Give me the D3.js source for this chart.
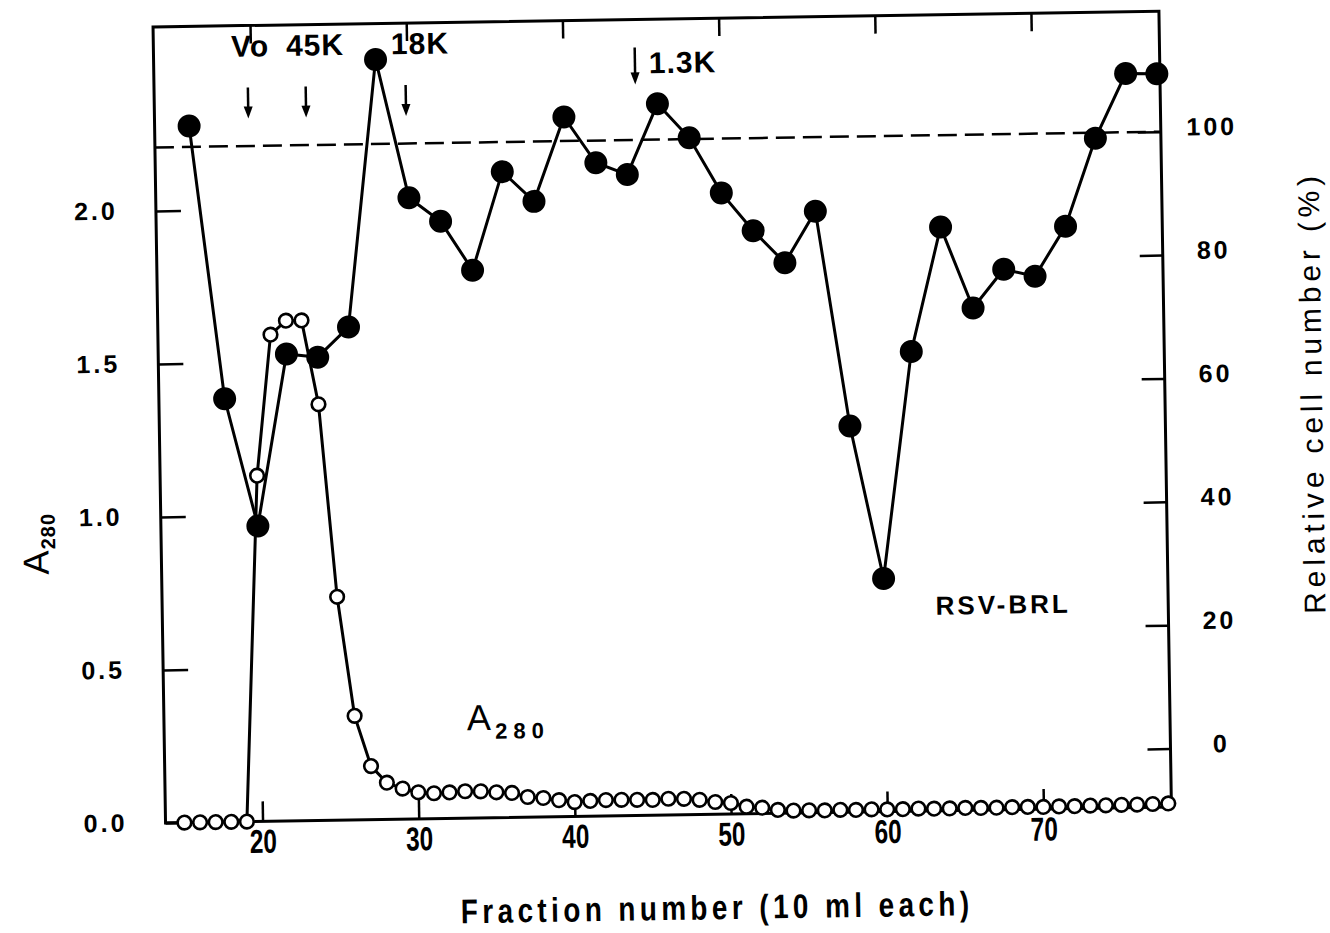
<!DOCTYPE html>
<html>
<head>
<meta charset="utf-8">
<script src="https://cdn.jsdelivr.net/npm/d3@7/dist/d3.min.js"></script>
<style>
  body { margin: 0; background: #fff; }
  svg { display: block; }
</style>
</head>
<body>
<script>
// A280 of each 10 ml fraction (open circles)
var openFractions = [15,16,17,18,19,20,21,22,23,24,25,26,27,28,29,30,31,32,33,34,35,36,37,38,39,40,41,42,43,44,45,46,
                     47,48,49,50,51,52,53,54,55,56,57,58,59,60,61,62,63,64,65,66,67,68,69,70,71,72,73,74,75,76,77,78];
var a280 = [0,0,0,0,0,1.13,1.59,1.635,1.635,1.36,0.73,0.34,0.175,0.12,0.10,0.087,0.083,0.085,0.088,0.087,0.083,0.08,
            0.066,0.062,0.054,0.047,0.05,0.052,0.052,0.051,0.05,0.053,0.052,0.048,0.04,0.036,0.023,0.019,0.011,
            0.008,0.008,0.007,0.008,0.007,0.008,0.007,0.007,0.008,0.007,0.007,0.008,0.007,0.007,0.008,0.008,0.007,
            0.008,0.008,0.009,0.009,0.010,0.010,0.011,0.012];

// relative cell number (%) for every second fraction (filled circles)
var cellFractions = [16,18,20,22,24,26,28,30,32,34,36,38,40,42,44,46,48,50,52,54,56,58,60,62,64,66,68,70,72,74,76,78];
var cellNumber = [103.4,59.1,38.4,66.2,65.6,70.4,113.7,91.2,87.3,79.3,95.2,90.3,103.9,96.4,94.4,105.8,
                  100.2,91.2,85.0,79.7,88.0,53.1,28.3,65.0,85.1,71.9,78.1,76.9,84.9,99.1,109.5,109.4];

var xTicks = [20,30,40,50,60,70];
var leftTicks = [0.0,0.5,1.0,1.5,2.0];
var rightTicks = [0,20,40,60,80,100];

// molecular weight markers
var markerLabels = ["Vo","45K","18K","1.3K"];
var markerFractions = [19.8,23.5,29.9,44.6];

var options = {
  width: 1330, height: 933,
  left: 160, right: 1166, top: 19, bottom: 815,
  tilt: -0.9
};

var svg = d3.select("body").append("svg")
            .attr("width", options.width)
            .attr("height", options.height);

// the scanned page is a little bit rotated
var chart = svg.append("g")
               .attr("transform", "rotate(" + options.tilt + ",665,466)");

var x = d3.scaleLinear().domain([20,70]).range([257,1038]);
var yLeft = d3.scaleLinear().domain([0,2]).range([options.bottom,203]);
var yRight = d3.scaleLinear().domain([0,100]).range([756.5,139.5]);

var font = "'Liberation Sans', Arial, sans-serif";

// frame
chart.append("rect")
     .attr("x", options.left).attr("y", options.top)
     .attr("width", options.right - options.left)
     .attr("height", options.bottom - options.top)
     .attr("fill", "none").attr("stroke", "#000").attr("stroke-width", 3);

var styleAxis = function(g) {
  g.select(".domain").remove();
  g.selectAll(".tick line").attr("stroke", "#000").attr("stroke-width", 2.5);
  g.selectAll("text").attr("fill", "#000");
};

// bottom axis with the fraction numbers (condensed type)
chart.append("g")
     .attr("transform", "translate(0," + options.bottom + ")")
     .call(d3.axisBottom(x).tickValues(xTicks).tickSizeInner(-20).tickSizeOuter(0).tickPadding(8))
     .call(styleAxis)
     .call(function(g) {
       g.selectAll("text")
        .attr("font-family", font)
        .attr("font-size", 33)
        .attr("font-weight", "bold")
        .attr("transform", "scale(0.74,1)");
     });

// top axis: ticks only
chart.append("g")
     .attr("transform", "translate(0," + options.top + ")")
     .call(d3.axisTop(x).tickValues(xTicks).tickSizeInner(-18).tickSizeOuter(0).tickFormat(""))
     .call(styleAxis);

// left axis A280
chart.append("g")
     .attr("transform", "translate(" + options.left + ",0)")
     .call(d3.axisLeft(yLeft).tickValues(leftTicks).tickSizeInner(-25).tickSizeOuter(0)
             .tickFormat(d3.format(".1f")))
     .call(styleAxis)
     .call(function(g) {
       g.selectAll("text")
        .attr("font-family", font)
        .attr("font-size", 25)
        .attr("font-weight", "bold")
        .attr("letter-spacing", 3)
        .attr("text-anchor", "middle")
        .attr("x", -60)
        .attr("dy", "0.3em");
     });

// right axis relative cell number
chart.append("g")
     .attr("transform", "translate(" + options.right + ",0)")
     .call(d3.axisRight(yRight).tickValues(rightTicks).tickSizeInner(-23).tickSizeOuter(0))
     .call(styleAxis)
     .call(function(g) {
       g.selectAll("text")
        .attr("font-family", font)
        .attr("font-size", 25)
        .attr("font-weight", "bold")
        .attr("letter-spacing", 3)
        .attr("text-anchor", "middle")
        .attr("x", 51)
        .attr("dy", "0.15em");
     });

// 100 % control level
chart.append("line")
     .attr("x1", options.left).attr("x2", options.right)
     .attr("y1", yRight(100)).attr("y2", yRight(100))
     .attr("stroke", "#000").attr("stroke-width", 2.5)
     .attr("stroke-dasharray", "19,8");

var openData = openFractions.map(function(f, i) { return { f: f, v: a280[i] }; });
var cellData = cellFractions.map(function(f, i) { return { f: f, v: cellNumber[i] }; });

// A280 trace
chart.append("path")
     .datum(openData)
     .attr("fill", "none").attr("stroke", "#000").attr("stroke-width", 3)
     .attr("d", d3.line().x(function(d) { return x(d.f); }).y(function(d) { return yLeft(d.v); }));

// cell number trace
chart.append("path")
     .datum(cellData)
     .attr("fill", "none").attr("stroke", "#000").attr("stroke-width", 3)
     .attr("d", d3.line().x(function(d) { return x(d.f); }).y(function(d) { return yRight(d.v); }));

chart.selectAll(".open").data(openData).enter()
     .append("circle")
     .attr("class", "open")
     .attr("cx", function(d) { return x(d.f); })
     .attr("cy", function(d) { return yLeft(d.v); })
     .attr("r", 6.8)
     .attr("fill", "#fff").attr("stroke", "#000").attr("stroke-width", 2.6);

chart.selectAll(".cell").data(cellData).enter()
     .append("circle")
     .attr("class", "cell")
     .attr("cx", function(d) { return x(d.f); })
     .attr("cy", function(d) { return yRight(d.v); })
     .attr("r", 11.5)
     .attr("fill", "#000");

// marker arrows
var arrowTop = [81, 81, 81, 47];
var arrowTip = [112, 112, 112, 84];
markerFractions.forEach(function(f, i) {
  var ax = x(f);
  chart.append("line")
       .attr("x1", ax).attr("x2", ax)
       .attr("y1", arrowTop[i]).attr("y2", arrowTip[i] - 8)
       .attr("stroke", "#000").attr("stroke-width", 2.5);
  chart.append("path")
       .attr("d", "M" + (ax - 4.5) + "," + (arrowTip[i] - 12) + "L" + (ax + 4.5) + "," + (arrowTip[i] - 12) +
                  "L" + ax + "," + arrowTip[i] + "Z")
       .attr("fill", "#000");
});

var labelDx = [3, 10, 15, 14];
markerLabels.forEach(function(t, i) {
  var last = i === markerLabels.length - 1;
  chart.append("text")
       .attr("x", x(markerFractions[i]) + labelDx[i])
       .attr("y", last ? 73 : 50)
       .attr("text-anchor", last ? "start" : "middle")
       .attr("font-family", font)
       .attr("font-size", 30)
       .attr("font-weight", "bold")
       .attr("letter-spacing", 1)
       .text(t);
});

// in-plot labels
chart.append("text")
     .attr("x", 1001).attr("y", 619)
     .attr("text-anchor", "middle")
     .attr("font-family", font)
     .attr("font-size", 26)
     .attr("font-weight", "bold")
     .attr("letter-spacing", 3)
     .text("RSV-BRL");

var aLabel = chart.append("text")
     .attr("x", 463).attr("y", 727)
     .attr("font-family", font)
     .attr("font-size", 36);
aLabel.append("tspan").text("A");
aLabel.append("tspan").attr("dy", 9).attr("dx", 4)
      .attr("font-size", 22).attr("font-weight", "bold").attr("letter-spacing", 6).text("280");

// axis titles
var leftTitle = chart.append("text")
     .attr("transform", "translate(47,534) rotate(-90)")
     .attr("text-anchor", "middle")
     .attr("font-family", font)
     .attr("font-size", 36);
leftTitle.append("tspan").text("A");
leftTitle.append("tspan").attr("dy", 7).attr("dx", 1)
         .attr("font-size", 20).attr("font-weight", "bold").attr("letter-spacing", 1).text("280");

chart.append("text")
     .attr("transform", "translate(1323,405) rotate(-90)")
     .attr("text-anchor", "middle")
     .attr("font-family", font)
     .attr("font-size", 30)
     .attr("textLength", 438)
     .attr("lengthAdjust", "spacing")
     .text("Relative cell number (%)");

chart.append("text")
     .attr("transform", "translate(708,920) scale(0.82,1)")
     .attr("text-anchor", "middle")
     .attr("font-family", font)
     .attr("font-size", 34)
     .attr("font-weight", "bold")
     .attr("textLength", 620)
     .attr("lengthAdjust", "spacing")
     .text("Fraction number (10 ml each)");
</script>
</body>
</html>
